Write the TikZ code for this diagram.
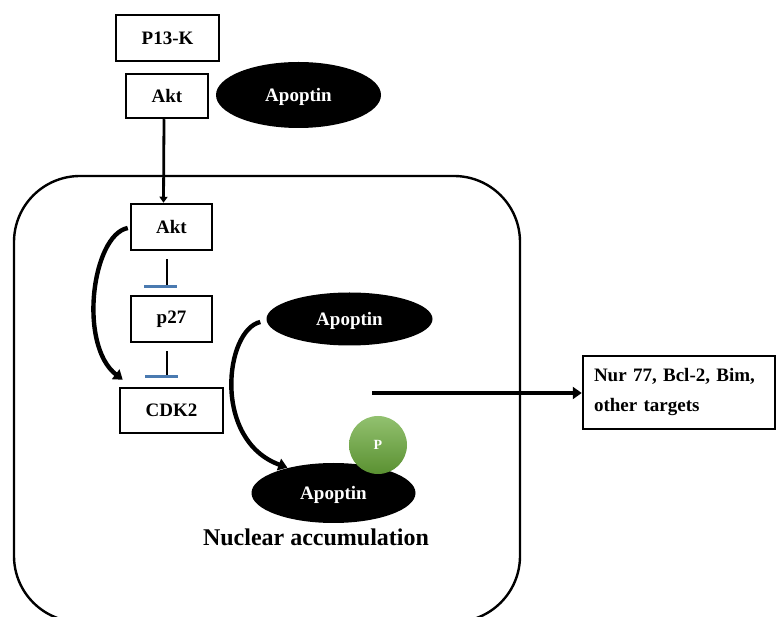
\documentclass[tikz,border=0pt]{standalone}
\usepackage{fontspec}
\setmainfont{Liberation Serif}
\usetikzlibrary{shapes.geometric,arrows.meta,calc}
\definecolor{tbar}{HTML}{4A7AB0}
\definecolor{pgreen}{HTML}{6AAA3A}
\begin{document}
\begin{tikzpicture}[x=1pt,y=-1pt,
  lbl/.style={font=\fontsize{19}{22}\selectfont\bfseries},
  boxnode/.style={lbl,draw=black,line width=2.5pt,inner sep=0pt,fill=white},
  apop/.style={lbl,ellipse,fill=black,text=white,inner sep=0pt,text depth=0pt},
  thick arrow/.style={line width=3.6pt,-{Triangle[width=12pt,length=9pt]}},
  curvy/.style={line width=4.4pt,-{Triangle[width=12pt,length=9pt]}},
  inhib/.style={line width=2.6pt},
  tbarline/.style={draw=tbar,line width=2.6pt},
  cell/.style={draw=black,line width=2.4pt,rounded corners=66pt}]
\useasboundingbox (0,0) rectangle (777,617);
\clip (0,0) rectangle (777,617);
% cell
\draw[cell] (14,176) rectangle (520,622);
% nodes
\node[boxnode,minimum width=103pt,minimum height=46pt] (p13k) at (167.5,38) {P13-K};
\node[boxnode,minimum width=82pt,minimum height=44pt] (akt1) at (167,96) {Akt};
\node[apop,minimum width=165pt,minimum height=66pt] (apop1) at (298.5,95) {Apoptin};
\node[boxnode,minimum width=81pt,minimum height=46pt] (akt2) at (171.5,227) {Akt};
\node[boxnode,minimum width=81pt,minimum height=46pt] (p27) at (171.5,319) {p27};
\node[boxnode,minimum width=103pt,minimum height=45pt] (cdk2) at (171.5,410.5) {CDK2};
\node[apop,minimum width=166pt,minimum height=53pt] (apop2) at (349.5,319) {Apoptin};
\node[apop,minimum width=164pt,minimum height=60pt] (apop3) at (333.5,493) {Apoptin};
\node[circle,minimum size=58pt,inner sep=0pt,top color=pgreen!70!white!90!pgreen,bottom color=pgreen!85!black,
      text=white,font=\fontsize{14}{16}\selectfont\bfseries] (pp) at (378,445) {P};
\node[font=\fontsize{24}{28}\selectfont\bfseries] (nuc) at (316,537) {Nuclear accumulation};
\node[draw=black,line width=2.5pt,minimum width=192pt,minimum height=73pt,inner sep=0pt,
      align=left,text width=170pt,font=\fontsize{19}{30}\selectfont\bfseries] (targets) at (679,392.5)
      {Nur 77, Bcl-2, Bim,\\other targets};
% connectors
\draw[line width=2.8pt,-{Triangle[width=8pt,length=6pt]}] ($(akt1.south)+(-3,0)$) -- ($(akt2.north)+(-8,0)$);
\draw[inhib] ($(akt2.south)+(-4.5,8)$) -- ($(p27.north)+(-4.5,-8)$);
\draw[tbarline] ($(p27.north)+(-27.5,-8)$) -- ($(p27.north)+(5.5,-8)$);
\draw[inhib] ($(p27.south)+(-4.5,8)$) -- ($(cdk2.north)+(-4.5,-10)$);
\draw[tbarline] ($(cdk2.north)+(-26.5,-10)$) -- ($(cdk2.north)+(6.5,-10)$);
\draw[curvy] ($(akt2.west)+(-2,1)$) .. controls (92,235) and (78,345) .. ($(cdk2.north west)+(4,-7)$);
\draw[curvy] ($(apop2.west)+(-6,3)$) .. controls (225,330) and (212,440) .. ($(apop3.north west)+(12,-4)$);
\coordinate (hstart) at (372,393);
\draw[thick arrow] (hstart) -- (targets.west |- hstart);
\end{tikzpicture}
\end{document}
